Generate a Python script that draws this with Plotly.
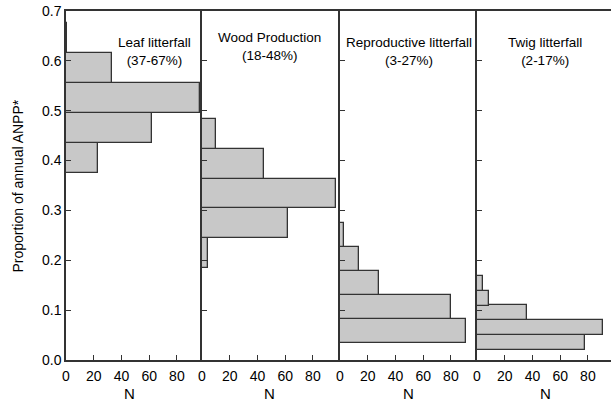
import plotly.graph_objects as go

# ---- data ----
panel_titles = ["Leaf litterfall<br>(37-67%)", "Wood Production<br>(18-48%)",
                "Reproductive litterfall<br>(3-27%)", "Twig litterfall<br>(2-17%)"]
# lower edge of each bin (proportion of annual ANPP), bottom to top
leaf_edges = [0.375, 0.435, 0.495, 0.555, 0.615]
wood_edges = [0.184, 0.244, 0.304, 0.364, 0.424]
repro_edges = [0.035, 0.083, 0.131, 0.179, 0.227]
twig_edges = [0.021, 0.051, 0.080, 0.109, 0.139]
bin_widths = [0.060, 0.060, 0.048, 0.0295]
# counts N per bin
leaf_n = [23, 62, 97, 33, 1]
wood_n = [4, 62, 97, 45, 10]
repro_n = [91, 80, 28, 14, 3]
twig_n = [78, 91, 36, 9, 4]
x_ticks = [0, 20, 40, 60, 80]
y_ticks = [0.0, 0.1, 0.2, 0.3, 0.4, 0.5, 0.6, 0.7]

edges_all = [leaf_edges, wood_edges, repro_edges, twig_edges]
counts_all = [leaf_n, wood_n, repro_n, twig_n]

# ---- layout geometry (pixels) ----
W, H = 611, 405
L, R, T, B = 66, 0, 11, 45
plot_w = W - L - R
bounds_px = [66, 202, 340, 477, 611]
px_per_unit = 1.386
domains = [((bounds_px[i] - L) / plot_w, (bounds_px[i + 1] - L) / plot_w) for i in range(4)]

line_col = "#333333"
txt_col = "#000000"
font_fam = "Liberation Sans, Arial, sans-serif"

fig = go.Figure()
for i in range(4):
    centers = [e + bin_widths[i] / 2 for e in edges_all[i]]
    sfx = "" if i == 0 else str(i + 1)
    fig.add_trace(go.Bar(
        x=counts_all[i], y=centers, orientation="h",
        width=[bin_widths[i]] * len(centers), base=0,
        marker=dict(color="#c8c8c8", line=dict(color="#333333", width=1.3)),
        xaxis="x" + sfx, yaxis="y" + sfx, showlegend=False,
    ))

layout = dict(
    width=W, height=H,
    margin=dict(l=L, r=R, t=T, b=B),
    plot_bgcolor="white", paper_bgcolor="white",
    font=dict(family=font_fam, size=13, color=txt_col),
    bargap=0,
)
annotations = []
for i in range(4):
    sfx = "" if i == 0 else str(i + 1)
    width_px = bounds_px[i + 1] - bounds_px[i]
    layout["xaxis" + sfx] = dict(
        domain=list(domains[i]), anchor="y" + sfx,
        range=[0, width_px / px_per_unit],
        tickvals=x_ticks, ticks="inside", ticklen=5, tickwidth=1.2,
        tickcolor=line_col, showline=True, linecolor=line_col, linewidth=1.5,
        mirror=True, showgrid=False, zeroline=False,
        ticklabelstandoff=2,
        tickfont=dict(size=14, color=txt_col),
    )
    layout["yaxis" + sfx] = dict(
        anchor="x" + sfx, range=[0, 0.7],
        tickvals=y_ticks, ticks="inside", ticklen=5, tickwidth=1.2,
        tickcolor=line_col, showline=True, linecolor=line_col, linewidth=1.5,
        showgrid=False, zeroline=False, tickformat=".1f",
        showticklabels=(i == 0),
        tickfont=dict(size=14, color=txt_col),
    )
    if i > 0:
        layout["yaxis" + sfx]["matches"] = "y"
    # panel title
    tx = [0.654, 0.49, 0.50, 0.51][i]
    ty = [0.885, 0.898, 0.885, 0.885][i]
    annotations.append(dict(
        text=panel_titles[i], xref="x" + sfx + " domain", yref="paper",
        x=tx, y=ty, xanchor="center", yanchor="middle", showarrow=False,
        font=dict(size=13.5, color=txt_col), align="center",
    ))
    # x title "N"
    annotations.append(dict(
        text="N", xref="x" + sfx + " domain", yref="paper",
        x=[0.47, 0.49, 0.50, 0.51][i], y=(H - B - 393) / (H - T - B),
        xanchor="center", yanchor="middle", showarrow=False,
        font=dict(size=15, color=txt_col),
    ))

annotations.append(dict(
    text="Proportion of annual ANPP*", xref="paper", yref="paper",
    x=(18 - L) / plot_w, y=0.497, textangle=-90,
    xanchor="center", yanchor="middle", showarrow=False,
    font=dict(size=14, color=txt_col),
))
layout["annotations"] = annotations
fig.update_layout(**layout)

fig.write_html("out.html")
